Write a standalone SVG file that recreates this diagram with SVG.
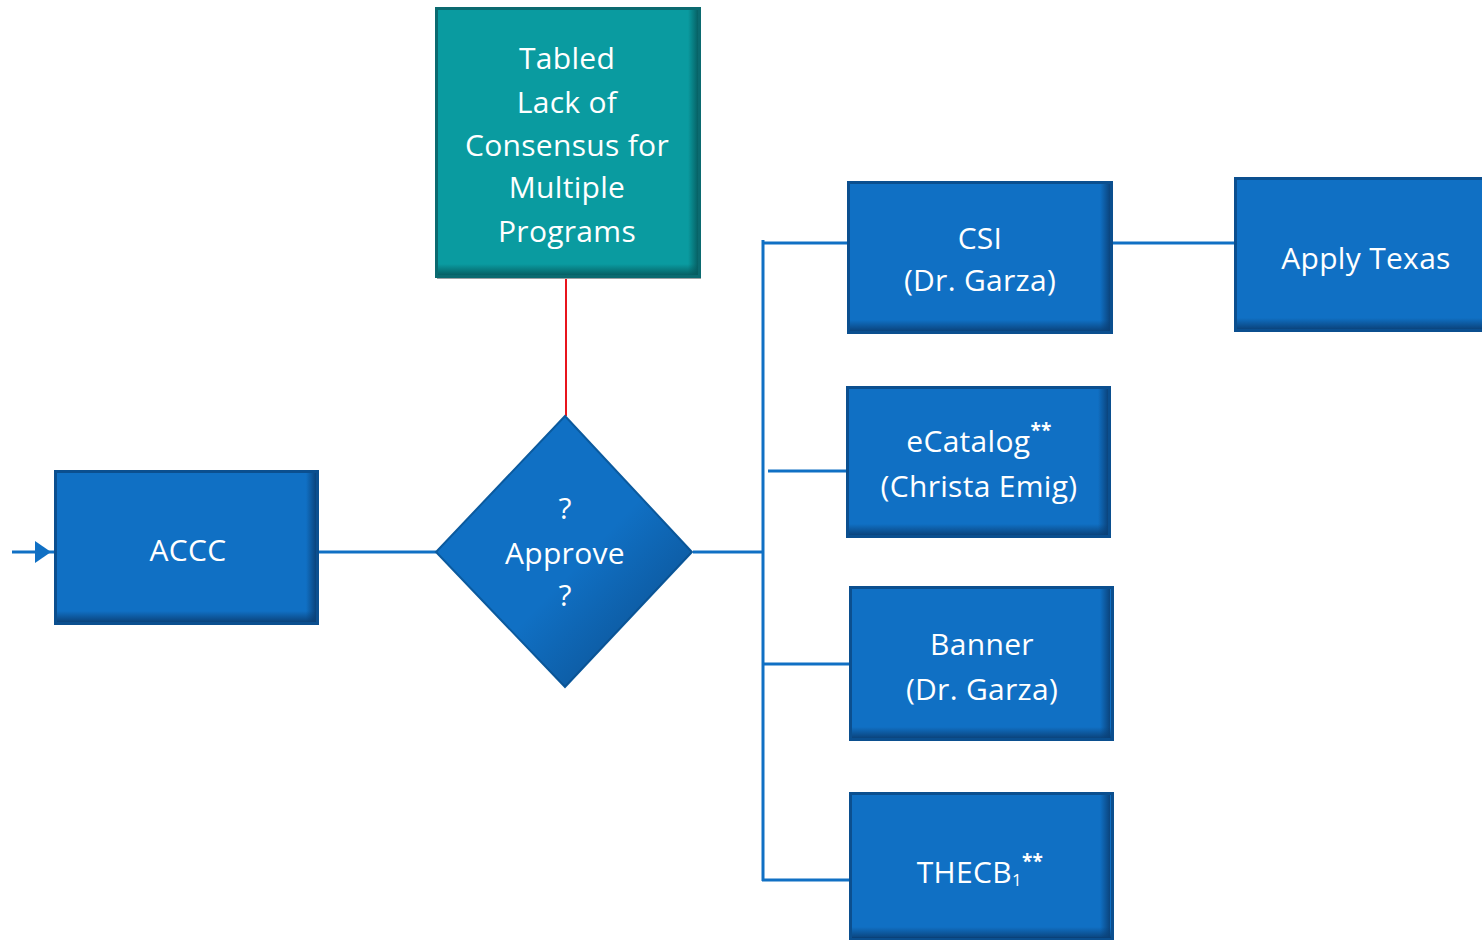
<svg xmlns="http://www.w3.org/2000/svg" width="1482" height="940" viewBox="0 0 1482 940">
<defs>
<linearGradient id="shR" x1="0" y1="0" x2="1" y2="0"><stop offset="0" stop-color="#0a3f75" stop-opacity="0"/><stop offset="1" stop-color="#0a3f75" stop-opacity="0.9"/></linearGradient>
<linearGradient id="shB" x1="0" y1="0" x2="0" y2="1"><stop offset="0" stop-color="#0a3f75" stop-opacity="0"/><stop offset="1" stop-color="#0a3f75" stop-opacity="0.9"/></linearGradient>
<linearGradient id="tR" x1="0" y1="0" x2="1" y2="0"><stop offset="0" stop-color="#065a5e" stop-opacity="0"/><stop offset="1" stop-color="#065a5e" stop-opacity="0.9"/></linearGradient>
<linearGradient id="tB" x1="0" y1="0" x2="0" y2="1"><stop offset="0" stop-color="#065a5e" stop-opacity="0"/><stop offset="1" stop-color="#065a5e" stop-opacity="0.9"/></linearGradient>
<linearGradient id="dG" x1="0" y1="0" x2="1" y2="1"><stop offset="0.55" stop-color="#0a3f75" stop-opacity="0"/><stop offset="1" stop-color="#0a3f75" stop-opacity="0.8"/></linearGradient>
</defs>
<style>
.box{fill:#1070c4;stroke:#0b4f8f;stroke-width:3}
.tbox{fill:#0a9ba0;stroke:#0b6a70;stroke-width:3}
.t{font-family:"Open Sans","Noto Sans",sans-serif;font-size:30px;letter-spacing:0.3px;fill:#ffffff;text-anchor:middle;dominant-baseline:central}
.c{fill:none;stroke:#1070c4;stroke-width:3}
</style>
<g id="connectors">
<line class="c" x1="12" y1="552" x2="54" y2="552"/>
<polygon points="35,541 51,552 35,563" fill="#1070c4"/>
<line class="c" x1="319" y1="552" x2="436" y2="552"/>
<line x1="566" y1="278" x2="566" y2="416" stroke="#e8141c" stroke-width="2"/>
<line class="c" x1="693" y1="552" x2="763" y2="552"/>
<line class="c" x1="763" y1="240" x2="763" y2="881"/>
<line class="c" x1="763" y1="243" x2="848" y2="243"/>
<line class="c" x1="768" y1="471" x2="847" y2="471"/>
<line class="c" x1="763" y1="664" x2="850" y2="664"/>
<line class="c" x1="762" y1="880" x2="850" y2="880"/>
<line class="c" x1="1113" y1="243" x2="1235" y2="243"/>
</g>
<g id="accc">
<rect class="box" x="55.5" y="471.5" width="262" height="152"/>
<rect x="306" y="473" width="10" height="149" fill="url(#shR)"/>
<rect x="57" y="611" width="259" height="11" fill="url(#shB)"/>
<text class="t" x="188" y="549">ACCC</text>
</g>
<g id="tabled">
<rect x="437" y="270" width="264" height="9" fill="#9aa0a3"/>
<rect class="tbox" x="436.5" y="8.5" width="263" height="268"/>
<rect x="688" y="10" width="10" height="265" fill="url(#tR)"/>
<rect x="438" y="264" width="260" height="11" fill="url(#tB)"/>
<text class="t" x="567" y="57">Tabled</text>
<text class="t" x="567" y="101">Lack of</text>
<text class="t" x="567" y="144">Consensus for</text>
<text class="t" x="567" y="186">Multiple</text>
<text class="t" x="567" y="230">Programs</text>
</g>
<g id="approve">
<polygon points="565,416 692,552 565,687 436,552" fill="#1070c4" stroke="#0b5a9e" stroke-width="2"/>
<polygon points="565,416 692,552 565,687 436,552" fill="url(#dG)"/>
<text class="t" x="565" y="507">?</text>
<text class="t" x="565" y="552">Approve</text>
<text class="t" x="565" y="594">?</text>
</g>
<g id="csi">
<rect class="box" x="848.5" y="182.5" width="263" height="150"/>
<rect x="1100" y="184" width="10" height="147" fill="url(#shR)"/>
<rect x="850" y="320" width="260" height="11" fill="url(#shB)"/>
<text class="t" x="980" y="237">CSI</text>
<text class="t" x="980" y="279">(Dr. Garza)</text>
</g>
<g id="applytexas">
<rect class="box" x="1235.5" y="178.5" width="250" height="152"/>
<rect x="1237" y="318" width="250" height="11" fill="url(#shB)"/>
<text class="t" x="1366" y="257">Apply Texas</text>
</g>
<g id="ecatalog">
<rect class="box" x="847.5" y="387.5" width="262" height="149"/>
<rect x="1098" y="389" width="10" height="146" fill="url(#shR)"/>
<rect x="849" y="524" width="259" height="11" fill="url(#shB)"/>
<text class="t" x="979" y="440">eCatalog<tspan font-size="19" font-weight="bold" dy="-10">**</tspan></text>
<text class="t" x="979" y="485">(Christa Emig)</text>
</g>
<g id="banner">
<rect class="box" x="850.5" y="587.5" width="262" height="152"/>
<rect x="1100" y="589" width="10" height="149" fill="url(#shR)"/>
<rect x="852" y="727" width="259" height="11" fill="url(#shB)"/>
<text class="t" x="982" y="643">Banner</text>
<text class="t" x="982" y="688">(Dr. Garza)</text>
</g>
<g id="thecb">
<rect class="box" x="850.5" y="793.5" width="262" height="145"/>
<rect x="1100" y="795" width="10" height="143" fill="url(#shR)"/>
<rect x="852" y="927" width="259" height="11" fill="url(#shB)"/>
<text class="t" x="980" y="871">THECB<tspan font-size="17" dy="8">1</tspan><tspan font-size="19" font-weight="bold" dy="-18">**</tspan></text>
</g>
</svg>
